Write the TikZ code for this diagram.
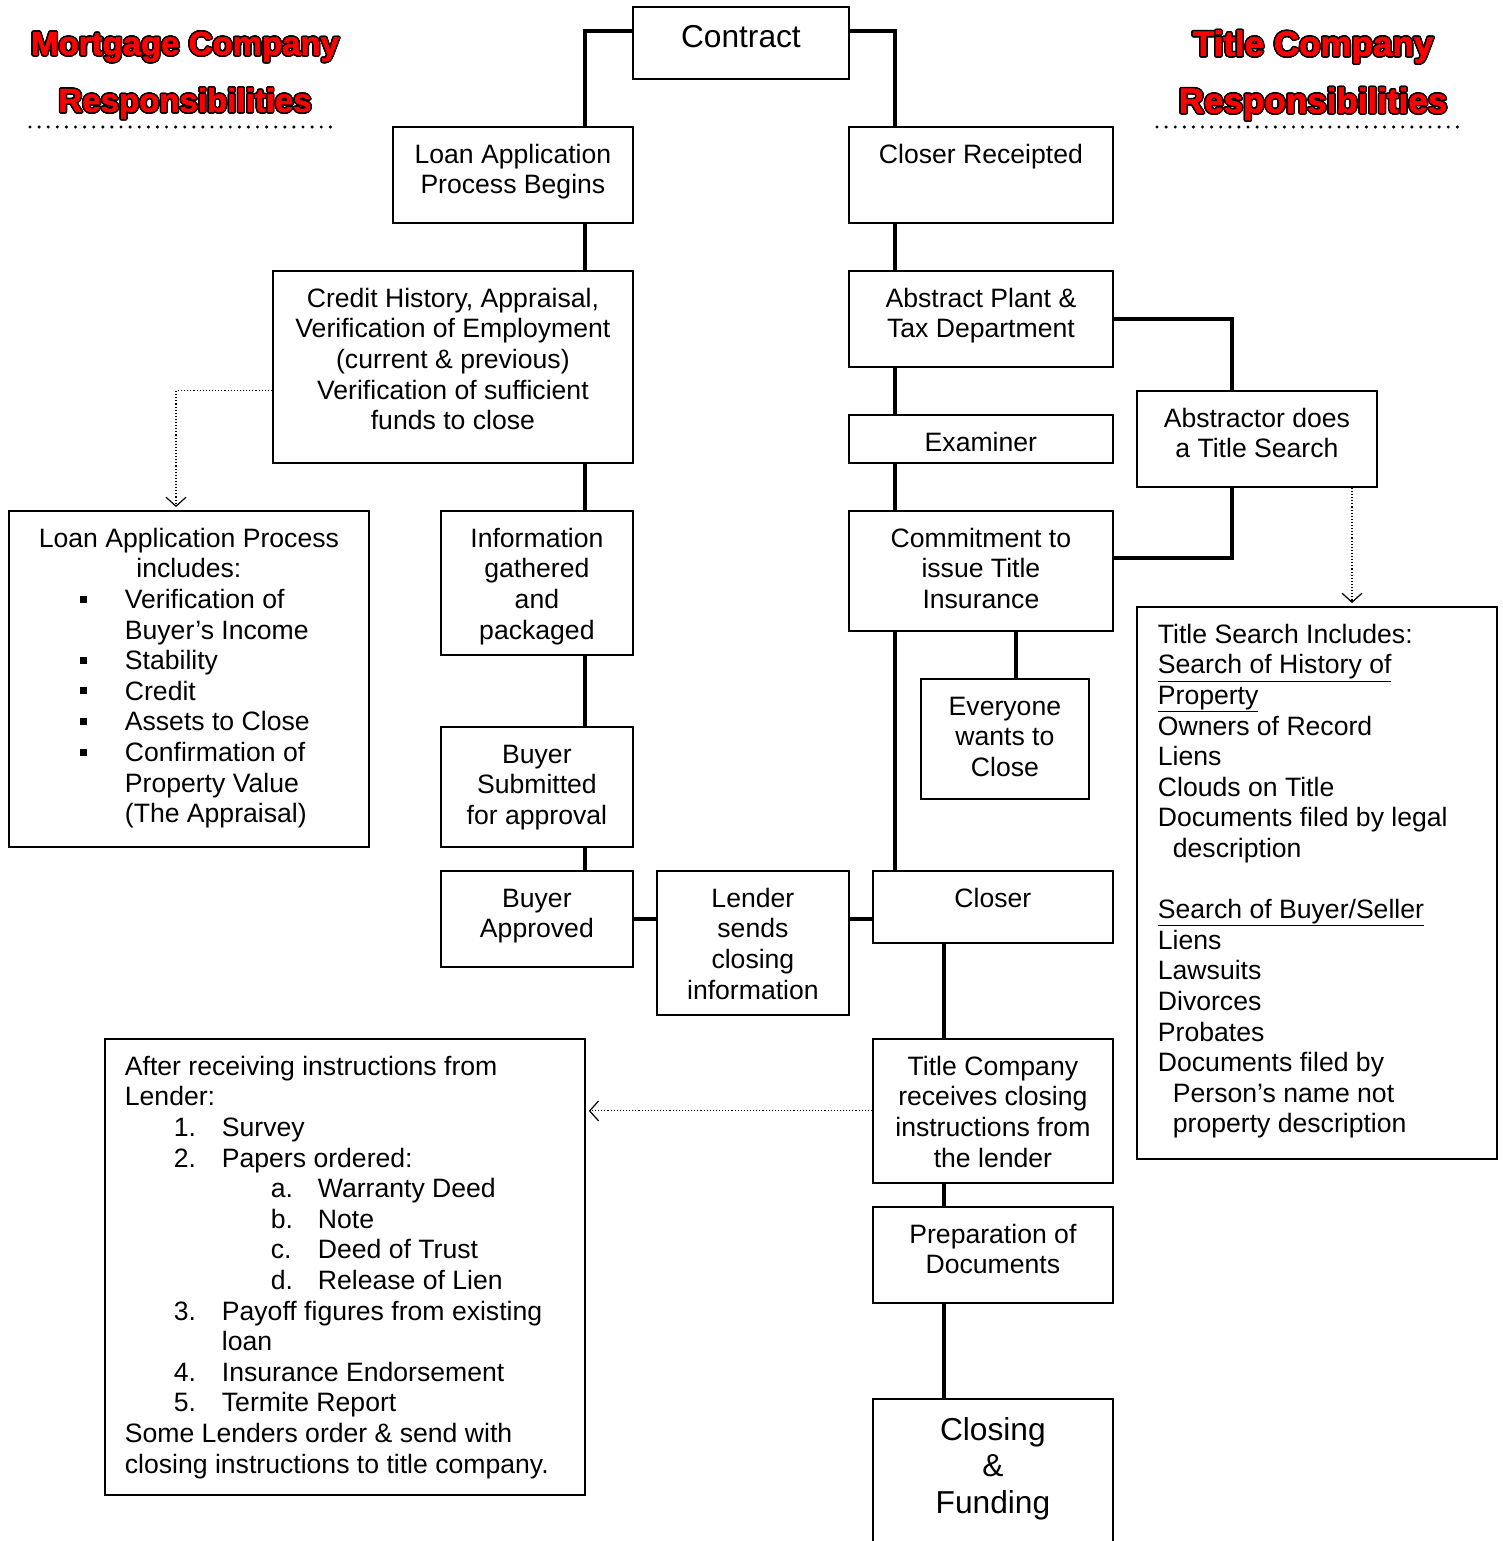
\documentclass[tikz,border=0pt]{standalone}
\usepackage{fontspec}
\setmainfont{Liberation Sans}
\newfontfamily\headfont[FakeBold=1.6]{Liberation Sans Bold}
\usepackage{contour}
\contourlength{1.5pt}
\usetikzlibrary{arrows.meta}

% text set at the top of a box: width, height, top pad, content
\newcommand{\boxtext}[4]{\parbox[t][#2pt][t]{#1pt}{\vspace*{#3pt}#4}}
\newcommand{\sqbullet}{\hspace*{71pt}\makebox[45pt][l]{\rule[6pt]{7pt}{7pt}}}
\newcommand{\numitem}[1]{\hspace*{49pt}\makebox[48pt][l]{#1}}
\newcommand{\letitem}[1]{\hspace*{146pt}\makebox[47pt][l]{#1}}

\tikzset{
  box/.style={draw, line width=1.8pt, inner sep=0pt, anchor=north west,
    font=\fontsize{26.6}{30.6}\selectfont},
  bigbox/.style={box, font=\fontsize{31.7}{36.5}\selectfont},
  link/.style={line width=3.6pt},
  dotlink/.style={dotted, line width=1.1pt, shorten >=3pt,
    -{Straight Barb[length=9pt,width=20pt,line width=1.2pt]}},
  head/.style={align=center, text=red,
    font=\headfont\fontsize{33}{57}\selectfont},
  headline/.style={line width=3.4pt, line cap=round, dash pattern=on 0pt off 9.1pt}
}

\begin{document}
\begin{tikzpicture}[x=1pt,y=-1pt]
\useasboundingbox (0,0) rectangle (1503,1541);

%%% HEADINGS
\node[head] (mortgagehead) at (185,76) {\contour{black}{Mortgage Company}\\\contour{black}{Responsibilities}};
\node[head, font=\headfont\fontsize{35}{57}\selectfont] (titlehead) at (1313,76) {\contour{black}{Title Company}\\\contour{black}{Responsibilities}};
\draw[headline] (30,127) -- (338,127);
\draw[headline] (1157,127) -- (1466,127);

%%% SPINES
\coordinate (lsp) at (585,0);
\coordinate (rsp) at (895,0);
\coordinate (bsp) at (944,0);
\coordinate (esp) at (1016,0);
\coordinate (asp) at (1232,0);

%%% TOP
\node[bigbox] (contract) at (632,6) {\boxtext{216}{72}{15}{\centering\strut Contract}};

%%% MORTGAGE SIDE
\node[box] (loanapp) at (392,126) {\boxtext{240}{96}{15}{\centering\strut Loan Application\\Process Begins}};
\node[box] (credit) at (272,270) {\boxtext{360}{192}{15}{\centering\strut Credit History, Appraisal,\\Verification of Employment\\(current \& previous)\\Verification of sufficient\\funds to close}};
\node[box] (info) at (440,510) {\boxtext{192}{144}{15}{\centering\strut Information\\gathered\\and\\packaged}};
\node[box] (buysub) at (440,726) {\boxtext{192}{120}{15}{\centering\strut Buyer\\Submitted\\for approval}};
\node[box] (buyapp) at (440,870) {\boxtext{192}{96}{15}{\centering\strut Buyer\\Approved}};
\node[box] (lender) at (656,870) {\boxtext{192}{144}{15}{\centering\strut Lender\\sends\\closing\\information}};

\node[box] (loanproc) at (8,510) {\boxtext{360}{336}{15}{{\centering\strut Loan Application Process\\includes:\par}
  \raggedright
  \sqbullet Verification of\\
  \hspace*{116pt}Buyer's Income\\
  \sqbullet Stability\\
  \sqbullet Credit\\
  \sqbullet Assets to Close\\
  \sqbullet Confirmation of\\
  \hspace*{116pt}Property Value\\
  \hspace*{116pt}(The Appraisal)}};

\node[box] (after) at (104,1038) {\boxtext{480}{456}{15}{\raggedright\leftskip=20pt
  \strut After receiving instructions from\\
  Lender:\\
  \numitem{1.}Survey\\
  \numitem{2.}Papers ordered:\\
  \letitem{a.}Warranty Deed\\
  \letitem{b.}Note\\
  \letitem{c.}Deed of Trust\\
  \letitem{d.}Release of Lien\\
  \numitem{3.}Payoff figures from existing\\
  \hspace*{97pt}loan\\
  \numitem{4.}Insurance Endorsement\\
  \numitem{5.}Termite Report\\
  Some Lenders order \& send with\\
  closing instructions to title company.}};

%%% TITLE SIDE
\node[box] (closerrec) at (848,126) {\boxtext{264}{96}{15}{\centering\strut Closer Receipted}};
\node[box] (abstract) at (848,270) {\boxtext{264}{96}{15}{\centering\strut Abstract Plant \&\\Tax Department}};
\node[box] (abstractor) at (1136,390) {\boxtext{240}{96}{15}{\centering\strut Abstractor does\\a Title Search}};
\node[box] (examiner) at (848,414) {\boxtext{264}{48}{15}{\centering\strut Examiner}};
\node[box] (commitment) at (848,510) {\boxtext{264}{120}{15}{\centering\strut Commitment to\\issue Title\\Insurance}};
\node[box] (everyone) at (920,678) {\boxtext{168}{120}{15}{\centering\strut Everyone\\wants to\\Close}};
\node[box] (closer) at (872,870) {\boxtext{240}{72}{15}{\centering\strut Closer}};
\node[box] (titleco) at (872,1038) {\boxtext{240}{144}{15}{\centering\strut Title Company\\receives closing\\instructions from\\the lender}};
\node[box] (prep) at (872,1206) {\boxtext{240}{96}{15}{\centering\strut Preparation of\\Documents}};
\node[bigbox] (closing) at (872,1398) {\boxtext{240}{170}{16}{\centering\strut Closing\\\&\\Funding}};

\node[box] (search) at (1136,606) {\boxtext{360}{552}{15}{\raggedright\leftskip=21pt
  \strut Title Search Includes:\\
  \underline{Search of History of}\\
  \underline{Property}\\
  Owners of Record\\
  Liens\\
  Clouds on Title\\
  Documents filed by legal\\
  \hspace*{15pt}description\\[30.6pt]
  \underline{Search of Buyer/Seller}\\
  Liens\\
  Lawsuits\\
  Divorces\\
  Probates\\
  Documents filed by\\
  \hspace*{15pt}Person's name not\\
  \hspace*{15pt}property description}};

%%% CONNECTORS
\draw[link] ([yshift=12pt]contract.west) -| (lsp |- loanapp.north);
\draw[link] ([yshift=12pt]contract.east) -| (rsp |- closerrec.north);
\draw[link] (lsp |- loanapp.south) -- (lsp |- credit.north);
\draw[link] (lsp |- credit.south) -- (lsp |- info.north);
\draw[link] (lsp |- info.south) -- (lsp |- buysub.north);
\draw[link] (lsp |- buysub.south) -- (lsp |- buyapp.north);
\draw[link] (buyapp.east) -- (lender.west |- buyapp.east);
\draw[link] (lender.east |- buyapp.east) -- (closer.west |- buyapp.east);
\draw[link] (rsp |- closerrec.south) -- (rsp |- abstract.north);
\draw[link] (rsp |- abstract.south) -- (rsp |- examiner.north);
\draw[link] (rsp |- examiner.south) -- (rsp |- commitment.north);
\draw[link] (rsp |- commitment.south) -- (rsp |- closer.north);
\draw[link] (esp |- commitment.south) -- (esp |- everyone.north);
\draw[link] (abstract.east) -| (asp |- abstractor.north);
\draw[link] (asp |- abstractor.south) |- ([yshift=13pt]commitment.east);
\draw[link] (bsp |- closer.south) -- (bsp |- titleco.north);
\draw[link] (bsp |- titleco.south) -- (bsp |- prep.north);
\draw[link] (bsp |- prep.south) -- (bsp |- closing.north);

%%% DOTTED ARROWS
\draw[dotlink] ([yshift=-24pt]credit.west) -| ([xshift=168pt]loanproc.north west);
\draw[dotlink] ([xshift=216pt]abstractor.south west) -- ([xshift=216pt]search.north west);
\draw[dotlink] (titleco.west) -- (after.east |- titleco.west);
\end{tikzpicture}
\end{document}
